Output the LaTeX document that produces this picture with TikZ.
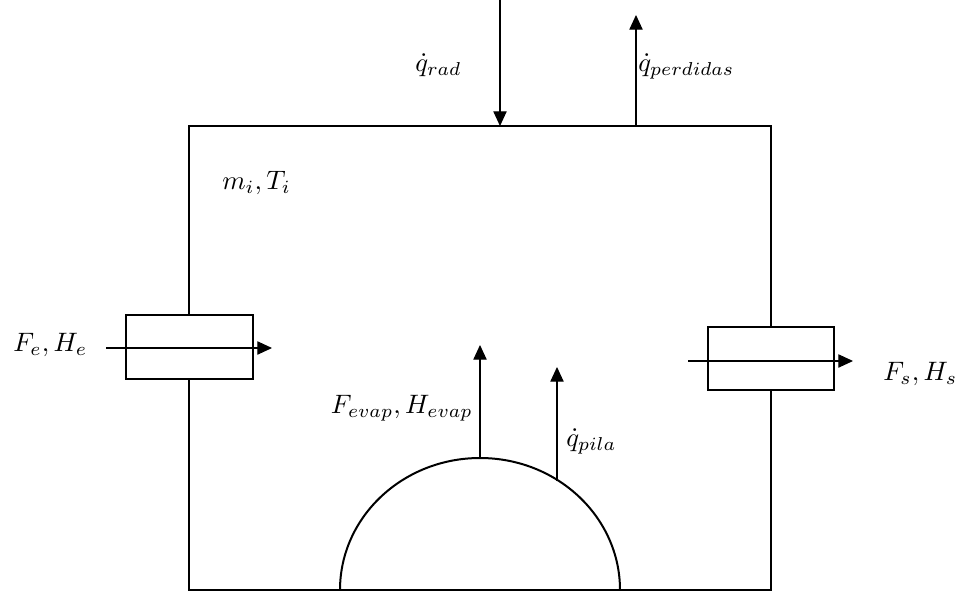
\documentclass[tikz,border=0pt]{standalone}
\usepackage{graphicx}
\usetikzlibrary{arrows.meta}
\newcommand{\lblmath}[1]{\scalebox{2}{$#1$}}
\begin{document}
\begin{tikzpicture}[x=0.75pt,y=-0.75pt,
  wall/.style={line width=1.6pt},
  valvebox/.style={draw,line width=1.6pt,fill=white},
  flow/.style={line width=0.8pt,-{Triangle[length=11pt,width=10pt]}},
  lbl/.style={inner sep=0pt}]
\useasboundingbox (0,0) rectangle (956,592);
% main vessel
\coordinate (tl) at (189,126);
\coordinate (br) at (771,590);
\draw[wall] (tl) rectangle (br);
% dome
\draw[line width=1.5pt] (340,590) arc[start angle=180,end angle=360,x radius=140,y radius=132];
\coordinate (dometop) at (480,458);
\coordinate (domeside) at (557,481);
% inlet / outlet boxes
\draw[valvebox] (126,315) rectangle (253,379);
\draw[valvebox] (708,327) rectangle (834,390);
% coordinates of flows
\coordinate (inA) at (106,348);
\coordinate (inB) at (272,348);
\coordinate (outA) at (688,361);
\coordinate (outB) at (853,361);
\coordinate (radA) at (500,0);
\coordinate (radB) at (500,126);
\coordinate (perA) at (636,126);
\coordinate (perB) at (636,15);
\coordinate (evB) at (480,345);
\coordinate (pilB) at (557,367);
\draw[flow] (inA) -- (inB);
\draw[flow] (outA) -- (outB);
\draw[flow] (radA) -- (radB);
\draw[flow] (perA) -- (perB);
\draw[flow] (dometop) -- (evB);
\draw[flow] (domeside) -- (pilB);
% labels
\node[lbl,anchor=base west] (qrad) at (415,72) {\lblmath{\dot{q}_{rad}}};
\node[lbl,anchor=base west] (qper) at (638,72) {\lblmath{\dot{q}_{perdidas}}};
\node[lbl,anchor=base west] (mT) at (222,189) {\lblmath{m_i,T_i}};
\node[lbl,anchor=base west] (Fe) at (13,351) {\lblmath{F_e,H_e}};
\node[lbl,anchor=base west] (Fs) at (883,380) {\lblmath{F_s,H_s}};
\node[lbl,anchor=base east] (Fev) at (473,413) {\lblmath{F_{evap},H_{evap}}};
\node[lbl,anchor=base west] (qp) at (566,446) {\lblmath{\dot{q}_{pila}}};
\end{tikzpicture}
\end{document}
